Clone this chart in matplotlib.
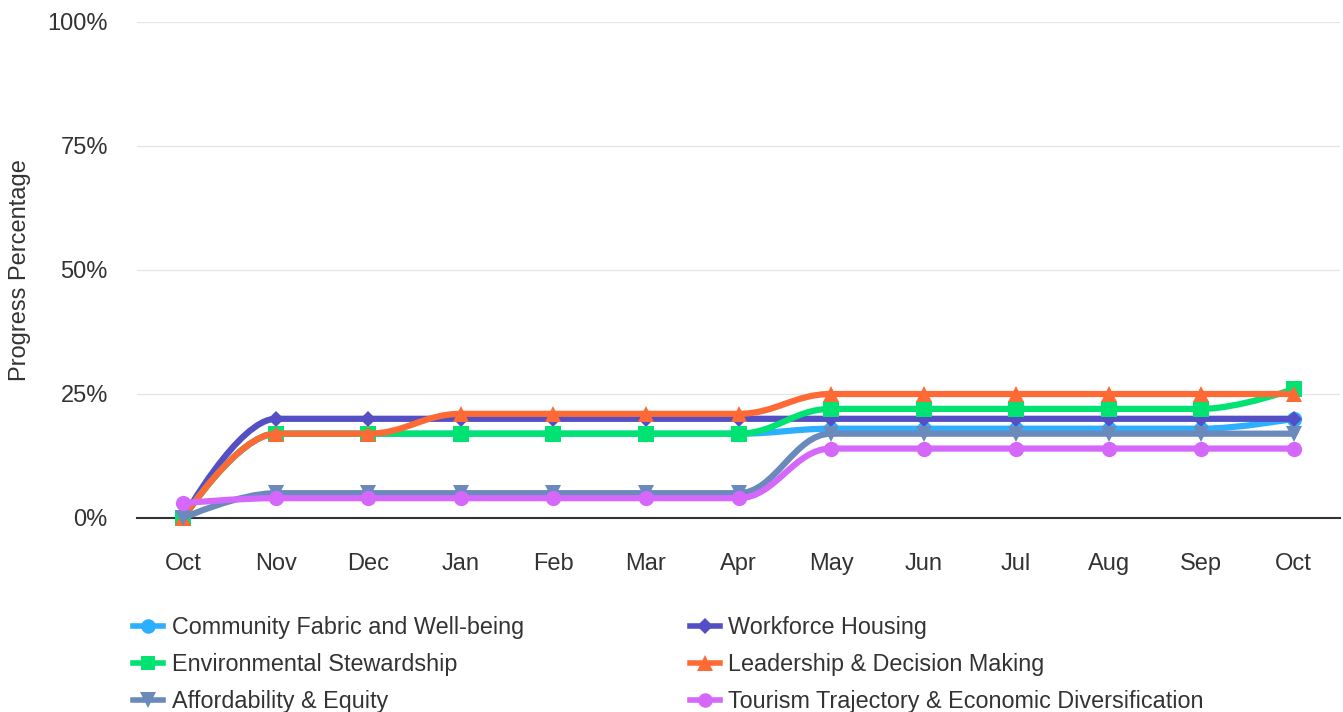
import numpy as np
import matplotlib
matplotlib.use("Agg")
import matplotlib.pyplot as plt
from matplotlib.path import Path
from matplotlib.patches import PathPatch
from matplotlib.lines import Line2D
from matplotlib.ticker import FuncFormatter

plt.rcParams['font.family'] = ['Liberation Sans', 'DejaVu Sans']

months = ["Oct", "Nov", "Dec", "Jan", "Feb", "Mar", "Apr", "May", "Jun", "Jul", "Aug", "Sep", "Oct"]

community = [0, 17, 17, 17, 17, 17, 17, 18, 18, 18, 18, 18, 20]
workforce = [0, 20, 20, 20, 20, 20, 20, 20, 20, 20, 20, 20, 20]
environment = [0, 17, 17, 17, 17, 17, 17, 22, 22, 22, 22, 22, 26]
leadership = [0, 17, 17, 21, 21, 21, 21, 25, 25, 25, 25, 25, 25]
affordability = [0, 5, 5, 5, 5, 5, 5, 17, 17, 17, 17, 17, 17]
tourism = [3, 4, 4, 4, 4, 4, 4, 14, 14, 14, 14, 14, 14]

names = ["Community Fabric and Well-being", "Workforce Housing", "Environmental Stewardship",
         "Leadership & Decision Making", "Affordability & Equity",
         "Tourism Trajectory & Economic Diversification"]
series = [community, workforce, environment, leadership, affordability, tourism]
colors = ["#2caffe", "#544fc5", "#00e272", "#fe6a35", "#6b8abc", "#d568fb"]
markers = ["o", "D", "s", "^", "v", "o"]
msizes = [11, 8.5, 11, 12, 12, 11]


def hc_spline(xs, ys, smoothing=1.5):
    # spline like the one Highcharts draws
    n = len(xs)
    denom = smoothing + 1
    left = [None] * n
    right = [None] * n
    for i in range(1, n - 1):
        lx, ly = xs[i - 1], ys[i - 1]
        px, py = xs[i], ys[i]
        nx, ny = xs[i + 1], ys[i + 1]
        lcx = (smoothing * px + lx) / denom
        lcy = (smoothing * py + ly) / denom
        rcx = (smoothing * px + nx) / denom
        rcy = (smoothing * py + ny) / denom
        if rcx != lcx:
            corr = ((rcy - lcy) * (rcx - px)) / (rcx - lcx) + py - rcy
            lcy += corr
            rcy += corr
        if lcy > ly and lcy > py:
            lcy = max(ly, py)
            rcy = 2 * py - lcy
        elif lcy < ly and lcy < py:
            lcy = min(ly, py)
            rcy = 2 * py - lcy
        if rcy > ny and rcy > py:
            rcy = max(ny, py)
            lcy = 2 * py - rcy
        elif rcy < ny and rcy < py:
            rcy = min(ny, py)
            lcy = 2 * py - rcy
        left[i] = (lcx, lcy)
        right[i] = (rcx, rcy)
    verts = [(xs[0], ys[0])]
    codes = [Path.MOVETO]
    for i in range(1, n):
        c1 = right[i - 1] if right[i - 1] is not None else (xs[i - 1], ys[i - 1])
        c2 = left[i] if left[i] is not None else (xs[i], ys[i])
        verts += [c1, c2, (xs[i], ys[i])]
        codes += [Path.CURVE4] * 3
    return Path(verts, codes)


fig = plt.figure(figsize=(13.43, 7.12), dpi=100)
ax = fig.add_axes([137 / 1343, 1 - 518 / 712, (1340 - 137) / 1343, (518 - 22) / 712])

x = np.arange(len(months))
for i, (vals, c, m, ms) in enumerate(zip(series, colors, markers, msizes)):
    patch = PathPatch(hc_spline(list(x), vals), facecolor="none", edgecolor=c, lw=4.5,
                      capstyle="round", joinstyle="round", zorder=3 + i, clip_on=False)
    ax.add_patch(patch)
    ax.plot(x, vals, linestyle="none", marker=m, markersize=ms, color=c,
            markeredgewidth=0, zorder=3 + i, clip_on=False)

ax.set_xlim(-0.5, len(months) - 0.5)
ax.set_ylim(0, 100)
ax.set_xticks(x)
ax.set_xticklabels(months)
ax.set_yticks([0, 25, 50, 75, 100])
ax.yaxis.set_major_formatter(FuncFormatter(lambda v, p: f"{v:.0f}%"))
ax.tick_params(axis="x", length=0, pad=25, labelsize=17, labelcolor="#333333")
ax.tick_params(axis="y", length=0, pad=21, labelsize=17, labelcolor="#333333")
ax.grid(axis="y", color="#e6e6e6", lw=1)
ax.set_axisbelow(True)
for s in ["top", "right", "left"]:
    ax.spines[s].set_visible(False)
ax.spines["bottom"].set_color("#333333")
ax.spines["bottom"].set_linewidth(1.5)
ax.spines["bottom"].set_zorder(2)

fig.text(20 / 1343, 1 - 270 / 712, "Progress Percentage", rotation=90, ha="center", va="center",
         fontsize=17, color="#333333")

handles = [Line2D([0], [0], color=c, lw=4, marker=m, markersize=ms * 0.95, markeredgewidth=0)
           for c, m, ms in zip(colors, markers, msizes)]
kw = dict(frameon=False, fontsize=16.8, handlelength=1.3, handletextpad=0.35,
          labelspacing=0.6, borderaxespad=0, borderpad=0, labelcolor="#333333")
leg1 = fig.legend([handles[0], handles[2], handles[4]], [names[0], names[2], names[4]],
                  loc="upper left", bbox_to_anchor=(133 / 1343, 1 - 616 / 712), **kw)
leg2 = fig.legend([handles[1], handles[3], handles[5]], [names[1], names[3], names[5]],
                  loc="upper left", bbox_to_anchor=(690 / 1343, 1 - 616 / 712), **kw)

fig.savefig("out.png", dpi=100)
